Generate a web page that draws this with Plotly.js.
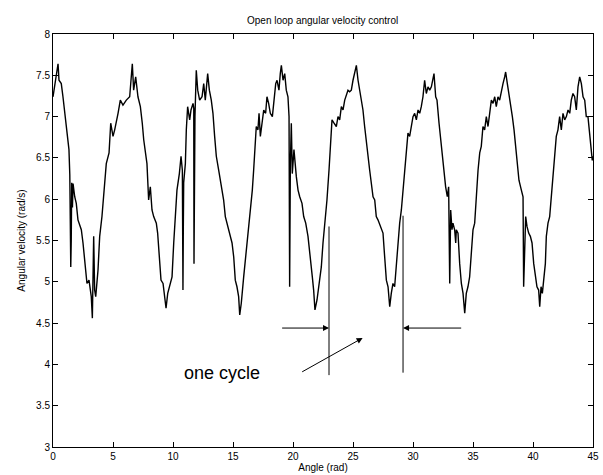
<!DOCTYPE html>
<html>
<head>
<meta charset="utf-8">
<script src="https://cdn.plot.ly/plotly-3.0.1.min.js"></script>
<style>html,body{margin:0;padding:0;background:#fff;}</style>
</head>
<body>
<div id="chart" style="width:603px;height:475px;"></div>
<script>
// Angle (rad) samples
const angle = [
0,0.14,0.28,0.42,0.5,0.69,0.83,0.97,1.17,1.33,1.40,1.45,1.48,1.52,1.56,1.62,1.67,1.81,1.94,2.08,2.36,2.5,2.69,2.83,3.0,3.19,3.28,3.34,3.39,3.47,3.56,3.75,3.89,4.08,4.31,4.44,4.67,4.81,5.0,5.14,5.42,5.61,5.83,6.11,6.39,6.53,6.61,6.72,6.89,7.08,7.28,7.44,
7.56,7.83,7.97,8.11,8.25,8.39,8.61,8.72,8.89,9.0,9.17,9.28,9.42,9.56,9.72,9.92,10.06,10.19,10.33,10.53,10.67,10.78,10.83,10.86,10.89,11.03,11.11,11.22,11.39,11.5,11.67,11.73,11.75,11.78,11.83,11.94,12.06,12.22,12.42,12.56,12.69,12.89,13.03,13.19,13.33,13.47,13.61,13.81,14.0,14.22,14.36,14.56,14.78,14.92,15.06,15.19,15.33,15.47,15.56,
15.69,15.89,16.06,16.25,16.44,16.61,16.72,16.81,16.94,17.08,17.17,17.28,17.42,17.56,17.72,17.83,17.97,18.11,18.28,18.42,18.56,18.67,18.83,18.94,19.03,19.17,19.31,19.44,19.58,19.67,19.72,19.78,19.86,19.94,20.08,20.28,20.42,20.56,20.75,20.89,21.06,21.25,21.39,21.53,21.61,21.72,21.83,22.0,22.17,22.36,22.5,22.67,22.83,23.0,23.11,23.25,23.42,
23.61,23.75,23.89,24.03,24.17,24.31,24.44,24.58,24.72,24.86,25.0,25.14,25.28,25.42,25.56,25.69,25.83,25.97,26.11,26.25,26.39,26.53,26.67,26.81,26.94,27.08,27.31,27.5,27.64,27.78,27.92,28.06,28.19,28.33,28.47,28.61,28.75,28.89,29.03,29.17,29.31,29.44,29.58,29.72,29.86,30.0,30.14,30.28,30.42,30.56,30.69,30.83,30.97,31.11,31.25,31.39,
31.53,31.67,31.75,31.89,32.0,32.17,32.31,32.44,32.58,32.72,32.86,32.97,33.06,33.14,33.25,33.33,33.47,33.56,33.61,33.75,33.89,34.03,34.17,34.31,34.44,34.58,34.72,34.86,35.0,35.14,35.28,35.42,35.56,35.69,35.83,35.97,36.11,36.25,36.39,36.53,36.67,36.81,36.94,37.08,37.22,37.36,37.5,37.64,37.72,37.86,38.0,38.14,38.28,38.42,38.56,38.69,38.83,
39.03,39.17,39.22,39.31,39.39,39.5,39.64,39.78,39.92,40.06,40.19,40.33,40.47,40.56,40.67,40.78,40.89,41.03,41.11,41.25,41.39,41.53,41.67,41.81,41.94,42.08,42.22,42.36,42.5,42.64,42.78,42.92,43.06,43.19,43.33,43.47,43.61,43.75,43.89,44.03,44.17,44.31,44.44,44.58,44.72,44.86,44.94,45.0
];
// Angular velocity (rad/s)
const velocity = [
7.24,7.36,7.52,7.64,7.44,7.40,7.24,7.04,6.84,6.60,6.30,5.45,5.18,5.50,6.20,5.90,6.19,6.03,5.95,5.75,5.63,5.47,5.22,4.98,5.02,4.82,4.56,4.95,5.55,4.90,4.82,5.14,5.55,5.79,6.15,6.43,6.56,6.92,6.76,6.84,7.04,7.20,7.14,7.20,7.24,7.52,7.64,7.32,7.48,7.24,7.12,6.92,
6.72,6.43,5.99,6.15,5.87,5.79,5.71,5.59,5.30,5.02,4.98,4.86,4.68,4.86,4.94,5.06,5.47,5.79,6.11,6.31,6.52,6.35,4.90,5.67,6.20,6.43,6.84,7.12,6.96,7.08,7.16,7.10,5.22,6.40,7.00,7.56,7.32,7.20,7.24,7.40,7.20,7.52,7.32,7.20,7.04,6.76,6.52,6.35,6.19,5.99,5.79,5.67,5.55,5.47,5.30,5.02,4.94,4.82,4.60,
4.74,5.06,5.30,5.55,5.79,6.11,6.35,6.64,6.88,6.84,7.04,6.76,6.96,7.08,7.04,7.24,7.16,7.04,7.00,7.24,7.40,7.44,7.32,7.52,7.62,7.44,7.52,7.32,7.24,7.00,4.94,6.43,6.92,6.31,6.60,6.27,6.11,6.03,5.95,5.79,5.71,5.55,5.38,5.22,5.06,4.90,4.66,4.78,4.98,5.18,5.47,5.71,5.99,6.35,6.67,6.96,6.92,
6.88,7.00,6.96,7.12,7.08,7.20,7.26,7.32,7.30,7.32,7.44,7.52,7.62,7.44,7.32,7.20,7.08,6.88,6.68,6.47,6.35,6.19,6.03,5.99,5.79,5.75,5.67,5.59,5.30,5.02,4.94,4.70,4.86,4.98,4.94,5.22,5.55,5.71,5.87,6.11,6.43,6.60,6.80,6.76,6.88,7.00,7.04,6.96,7.08,7.04,7.12,7.24,7.44,7.28,7.36,7.32,
7.36,7.48,7.52,7.24,7.20,6.92,6.72,6.47,6.31,6.15,6.03,6.15,4.98,5.87,5.63,5.71,5.63,5.47,5.63,5.59,5.22,4.98,4.86,4.62,4.86,4.94,5.06,5.30,5.63,5.71,6.07,6.35,6.56,6.64,6.88,6.84,7.00,6.88,7.04,7.20,7.16,7.24,7.12,7.24,7.20,7.32,7.40,7.48,7.54,7.40,7.28,7.12,7.00,6.84,6.64,6.43,6.23,
6.11,6.03,4.94,5.63,5.79,5.67,5.59,5.55,5.47,5.22,5.06,4.94,4.90,4.70,4.94,4.86,5.02,5.22,5.55,5.71,5.79,6.03,6.35,6.52,6.76,6.84,7.00,6.84,7.04,6.96,7.00,7.08,7.04,7.20,7.28,7.24,7.08,7.36,7.48,7.40,7.24,7.20,7.00,7.00,6.76,6.60,6.47,6.52
];

// Axis tick values
const xTicks = [0,5,10,15,20,25,30,35,40,45];
const yTicks = [3,3.5,4,4.5,5,5.5,6,6.5,7,7.5,8];

// "one cycle" markers (annotation geometry, in data units)
const cycleStart = 23.0, cycleEnd = 29.17;
const markerTop = [5.67, 5.8], markerBottom = [3.87, 3.9];
const arrowY = 4.44;

const trace = {
  x: angle, y: velocity, type: 'scatter', mode: 'lines',
  line: {color: '#000000', width: 1.4}, hoverinfo: 'skip', showlegend: false
};

const font = {family: 'Liberation Sans, Arial, sans-serif', color: '#000', size: 10};

const layout = {
  width: 603, height: 475,
  margin: {l: 53, r: 10, t: 34, b: 28},
  paper_bgcolor: '#fff', plot_bgcolor: '#fff',
  font: font,
  title: {text: 'Open loop angular velocity control', font: {family: font.family, size: 10, color: '#000'},
          x: 0.535, xanchor: 'center', y: 0.956, yanchor: 'middle'},
  xaxis: {
    range: [0, 45], tickvals: xTicks, ticks: 'inside', ticklen: 5, tickcolor: '#000',
    showline: true, linecolor: '#000', linewidth: 1, mirror: 'ticks',
    showgrid: false, zeroline: false, tickfont: {size: 10},
    title: {text: 'Angle (rad)', font: {size: 10}, standoff: 2}
  },
  yaxis: {
    range: [3, 8], tickvals: yTicks, ticks: 'inside', ticklen: 5, tickcolor: '#000',
    showline: true, linecolor: '#000', linewidth: 1, mirror: 'ticks',
    showgrid: false, zeroline: false, tickfont: {size: 10},
    title: {text: 'Angular velocity (rad/s)', font: {size: 10}, standoff: 8}
  },
  shapes: [
    {type: 'line', xref: 'x', yref: 'y', x0: cycleStart, x1: cycleStart, y0: markerBottom[0], y1: markerTop[0], line: {color: '#000', width: 1}},
    {type: 'line', xref: 'x', yref: 'y', x0: cycleEnd, x1: cycleEnd, y0: markerBottom[1], y1: markerTop[1], line: {color: '#000', width: 1}}
  ],
  annotations: [
    {x: cycleStart, y: arrowY, ax: 18.97, ay: arrowY, xref: 'x', yref: 'y', axref: 'x', ayref: 'y',
     text: '', showarrow: true, arrowhead: 2, arrowsize: 1.2, arrowwidth: 1, arrowcolor: '#000'},
    {x: cycleEnd, y: arrowY, ax: 34.14, ay: arrowY, xref: 'x', yref: 'y', axref: 'x', ayref: 'y',
     text: '', showarrow: true, arrowhead: 2, arrowsize: 1.2, arrowwidth: 1, arrowcolor: '#000'},
    {x: 25.8, y: 4.32, ax: 20.64, ay: 3.90, xref: 'x', yref: 'y', axref: 'x', ayref: 'y',
     text: '', showarrow: true, arrowhead: 2, arrowsize: 1.2, arrowwidth: 1, arrowcolor: '#000'},
    {x: 14.05, y: 3.90, xref: 'x', yref: 'y', text: 'one cycle', showarrow: false,
     font: {family: font.family, size: 18, color: '#000'}, xanchor: 'center', yanchor: 'middle'}
  ]
};

Plotly.newPlot('chart', [trace], layout, {staticPlot: true, displayModeBar: false});
</script>
</body>
</html>
